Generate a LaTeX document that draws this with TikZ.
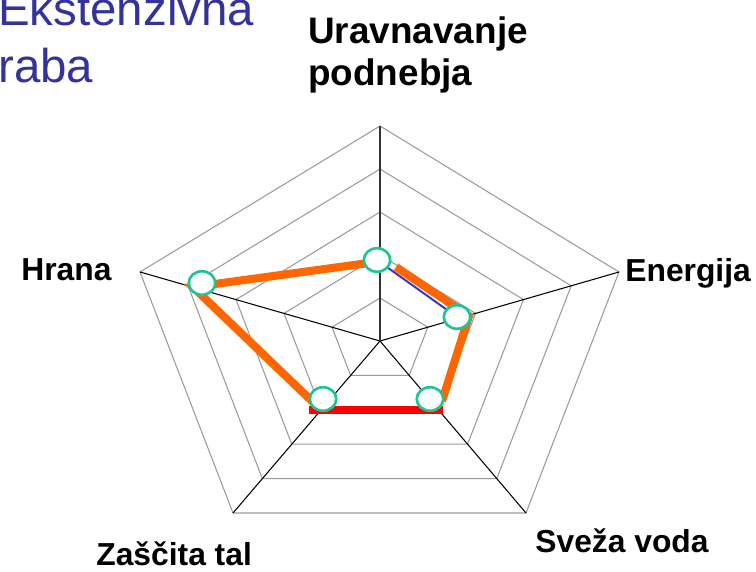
\documentclass[tikz,border=0pt]{standalone}
\usepackage{fontspec}
\setmainfont{Liberation Sans}
\usetikzlibrary{shapes.geometric,calc}
\definecolor{titleblue}{RGB}{51,51,153}
\definecolor{gridgray}{RGB}{155,155,155}
\definecolor{markgreen}{RGB}{30,195,150}
\definecolor{serorange}{RGB}{255,102,0}
\definecolor{serblue}{RGB}{51,51,204}

\begin{document}
\begin{tikzpicture}[x=0.02cm,y=-0.02cm,
    ring/.style={draw=gridgray,line width=0.6pt},
    spoke/.style={draw=black,line width=0.6pt},
    datapt/.style={ellipse,draw=markgreen,fill=white,line width=1.5pt,
      minimum width=0.53cm,minimum height=0.47cm,inner sep=0pt},
    lbl/.style={font=\bfseries\fontsize{18.1pt}{21pt}\selectfont,inner sep=0pt}]
     \useasboundingbox (0,0) rectangle (756,571);
     \coordinate (C) at (380,341);
     \coordinate (V1) at (380,126);
     \coordinate (V2) at (619,272);
     \coordinate (V3) at (526,513);
     \coordinate (V4) at (233,513);
     \coordinate (V5) at (140,272);
      % rings and spokes
      \foreach \r in {0.2,0.4,0.6,0.8,1.0}
        \draw[ring] ($(C)!\r!(V1)$) -- ($(C)!\r!(V2)$) -- ($(C)!\r!(V3)$)
          -- ($(C)!\r!(V4)$) -- ($(C)!\r!(V5)$) -- cycle;
      \foreach \v in {V2,V3,V4,V5}
        \draw[spoke] (C) -- (\v);
      \draw[spoke,draw=black!80,line width=0.8pt] (C) -- (V1);
      % series
      \coordinate (M1) at (377,260);
      \coordinate (M2) at (457,317);
      \coordinate (M3) at (430,399);
      \coordinate (M4) at (323,399);
      \coordinate (M5) at (202,283);
      \coordinate (O1) at (376,262);
      \coordinate (O2) at (193,287);
      \coordinate (O3) at (316,405);
      \coordinate (O4) at (396,267);
      \coordinate (O5) at (469,316);
      \coordinate (O6) at (442,401);
      \coordinate (R1) at (309,410);
      \coordinate (R2) at (443,410);
      \draw[serblue,line width=1.1pt] (M1) -- (M2);
      \draw[serorange,line width=4.6pt] (O1) -- (O2) -- (O3);
      \draw[serorange,line width=4.6pt] (O4) -- (O5) -- (O6);
      \draw[red,line width=4.8pt] (R1) -- (R2);
      \node[datapt] (P1) at (M1) {};
      \node[datapt] (P2) at (M2) {};
      \node[datapt] (P3) at (M3) {};
      \node[datapt] (P4) at (M4) {};
      \node[datapt] (P5) at (M5) {};
      % labels
      \node[inner sep=0pt,text=titleblue,font=\fontsize{27pt}{32.3pt}\selectfont,
        align=left,anchor=north west] (Ltitle) at (-2,-9) {Ekstenzivna\\raba};
      \node[lbl,font=\bfseries\fontsize{21pt}{24.4pt}\selectfont,align=left,
        anchor=north west] (Lpodn) at (308,16) {Uravnavanje\\podnebja};
      \node[lbl,anchor=base west] (Lhrana) at (21,280) {Hrana};
      \node[lbl,anchor=base west] (Lenerg) at (625,281) {Energija};
      \node[lbl,anchor=base west] (Lvoda) at (535,552) {Sveža voda};
      \node[lbl,anchor=base west] (Ltal) at (96,565) {Zaščita tal};
\end{tikzpicture}
\end{document}
